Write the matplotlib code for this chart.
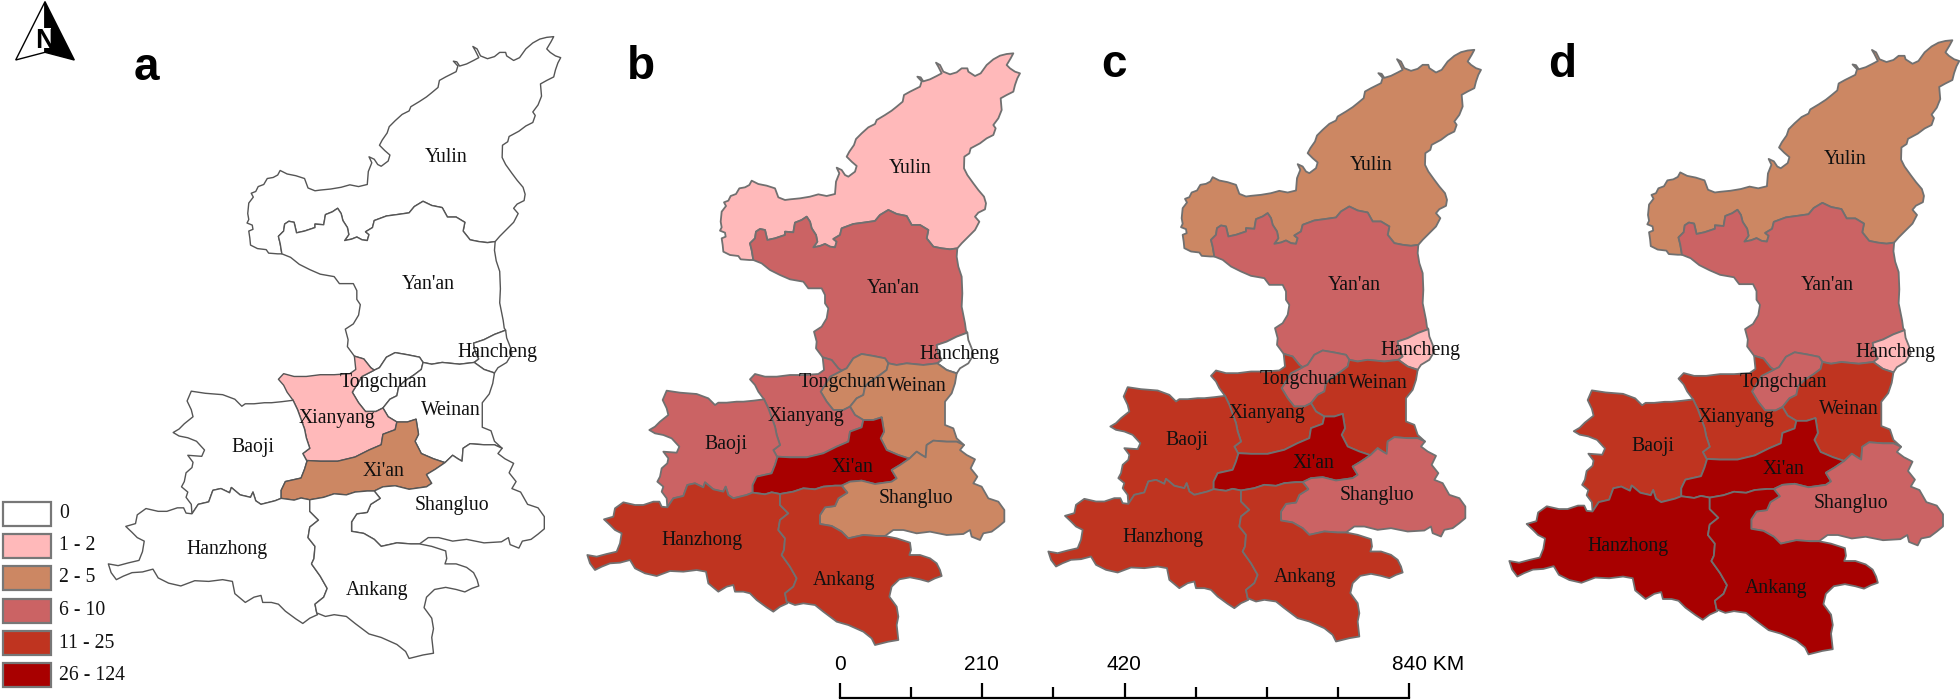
import matplotlib
matplotlib.use("Agg")
import matplotlib.pyplot as plt
from matplotlib.patches import Polygon, Rectangle

# ---------------- data ----------------
regions = ["Yulin", "Yan'an", "Hancheng", "Tongchuan", "Weinan", "Xianyang",
           "Baoji", "Xi'an", "Shangluo", "Hanzhong", "Ankang"]
legend_labels = ["0", "1 - 2", "2 - 5", "6 - 10", "11 - 25", "26 - 124"]
legend_colors = ["#FFFFFF", "#FFB9BA", "#CC8763", "#CB6364", "#BF3420", "#A80000"]
class_a = [0, 0, 0, 0, 0, 1, 0, 2, 0, 0, 0]
class_b = [1, 3, 0, 2, 2, 3, 3, 5, 2, 4, 4]
class_c = [2, 3, 1, 3, 4, 4, 4, 5, 3, 4, 4]
class_d = [2, 3, 1, 3, 4, 4, 4, 5, 3, 5, 5]
scale_labels = ["0", "210", "420", "840 KM"]

# Traced boundaries, in the 3x coordinates of the map tiles
def tile(ox, oy, pts):
    return [(ox + x / 3, oy + y / 3) for x, y in pts]

Y_OUT = tile(730, 40, [(682,625),(695,610),(715,590),(735,570),(748,545),(735,530),(745,518),(765,508),(768,490),(762,470),(745,450),(730,430),(712,405),(702,385),(703,350),(718,340),(722,325),(750,310),(770,295),(790,285),(797,265),(790,255),(805,235),(815,210),(812,175),(830,165),(850,155),(855,135),(862,115),(870,100),(855,95),(840,85),(830,75),(842,55),(850,40),(830,42),(810,47),(790,58),(770,75),(752,100),(735,108),(715,95),(712,85),(695,85),(680,97),(660,103),(640,95),(630,75),(618,68),(625,80),(635,100),(620,108),(600,118),(580,124),(572,112),(562,110),(575,124),(570,140),(540,155),(522,165),(518,185),(500,200),(485,212),(465,225),(440,240),(435,252),(415,262),(395,280),(378,297),(372,315),(358,335),(350,350),(365,365),(380,378),(375,395),(355,410),(345,405),(335,390),(320,383),(328,400),(318,425),(315,462),(290,468),(265,463),(240,470),(210,475),(180,478),(165,480),(145,472),(135,445),(110,437),(85,432)]) \
    + tile(710, 170, [(125,32),(118,45),(105,52),(88,55),(78,72),(62,78),(55,92),(42,97),(48,108),(35,125),(32,155),(35,172),(30,182),(45,188),(47,200),(35,205),(38,225),(40,245),(60,255),(85,258),(92,268),(118,270),(130,270)])
YY = tile(730, 40, [(70,660),(65,630),(60,610),(75,595),(78,575),(90,567),(105,570),(112,600),(135,595),(165,585),(165,575),(190,577),(195,548),(215,540),(230,530),(240,545),(245,565),(258,585),(262,605),(250,622),(270,618),(285,612),(300,620),(315,622),(320,605),(310,597),(330,585),(335,565),(370,552),(400,548),(435,543),(450,525),(475,510),(500,522),(530,528),(545,555),(570,555),(595,570),(590,595),(610,620),(635,625),(660,628),(682,625)])
YA_E = tile(730, 40, [(682,625),(680,650),(685,680),(695,710),(697,760),(695,800),(705,850),(708,872)])
HC_N = tile(690, 200, [(832,398),(800,410),(770,425),(740,435),(745,460),(755,480),(742,490)])
HC_E = tile(690, 200, [(832,398),(835,420),(845,445),(850,465),(835,490),(810,505),(800,520)])
HC_S = tile(690, 200, [(742,490),(770,510),(800,520)])
YA_W = tile(690, 200, [(190,180),(215,190),(240,210),(270,225),(300,238),(340,245),(355,265),(395,265),(405,285),(405,310),(415,325),(410,355),(395,380),(372,395),(380,425),(378,445),(398,472)])
YA_XY = tile(690, 200, [(398,472),(425,480),(445,505),(455,512)])
YA_TC = tile(690, 200, [(455,512),(470,505),(490,475),(515,462),(550,468),(585,475),(595,490)])
YA_WN = tile(690, 200, [(595,490),(620,495),(650,490),(700,495),(742,490)])
TC_WN = tile(690, 200, [(595,490),(590,510),(570,525),(540,545),(525,560),(520,585),(500,595),(480,620)])
TC_XY = tile(690, 200, [(480,620),(460,630),(430,630),(410,605),(392,575),(420,530),(455,512)])
XY_N = tile(690, 200, [(398,472),(402,510),(385,522),(340,525),(300,525),(260,530),(225,530),(195,522),(180,538),(195,555),(205,575),(222,598)])
XY_WN = tile(690, 200, [(480,620),(495,645),(520,660)])
WN_XA = tile(690, 200, [(520,660),(550,660),(575,652)])
XY_XA = tile(690, 200, [(520,660),(515,682),(480,695),(475,725),(440,740),(400,760),(350,772),(300,772),(262,770)])
BJ_XY = tile(580, 370, [(552,88),(565,115),(585,170),(590,195),(600,225),(580,240),(592,262)])
BJ_XA = tile(580, 370, [(592,262),(585,285),(575,310),(530,320),(518,345),(518,368)])
BJ_N = tile(580, 370, [(552,88),(520,92),(490,95),(470,95),(440,98),(415,98),(405,105),(385,85),(350,72),(300,68),(260,62),(248,90),(260,115),(265,135),(240,155),(225,170),(208,180),(225,190),(250,195),(275,205),(298,230),(290,248),(250,245),(265,265),(262,280),(245,295),(240,320),(232,335),(250,350),(245,365),(260,385),(262,412)])
HZ_BJ = tile(580, 370, [(262,412),(280,385),(310,378),(322,345),(345,340),(370,352),(375,337),(400,358),(430,365),(437,350),(445,375),(460,385),(500,375),(518,368)])
HZ_XA = tile(580, 370, [(518,368),(555,373),(575,367),(600,372)])
HZ_S = tile(580, 370, [(622,700),(600,710),(580,725),(560,712),(530,690),(510,670),(490,665),(465,665),(460,645),(440,650),(415,665),(385,640),(378,605),(350,600),(310,605),(270,603),(230,618),(195,610),(165,595),(150,570),(120,578),(90,580),(65,590),(45,600),(30,580),(22,555),(50,560),(80,552),(110,545),(120,520),(125,490),(105,480),(90,465),(72,448),(100,440),(105,415),(130,397),(165,405),(190,405),(220,395),(238,395),(245,410),(262,412)])
AK_HZ = tile(760, 370, [(60,372),(60,405),(85,430),(60,450),(55,480),(75,505),(72,540),(65,555),(90,590),(110,625),(100,650),(75,670),(80,695)])
XA_AK = tile(760, 370, [(60,372),(100,365),(130,355),(165,358),(190,350),(225,347),(245,347)])
XA_WN = tile(760, 370, [(365,142),(372,185),(362,205),(380,240),(415,255),(448,266)])
XA_SL = tile(760, 370, [(448,266),(420,285),(395,300),(410,325),(395,335),(345,342),(305,332),(270,335),(245,347)])
SL_WN = tile(760, 370, [(448,266),(470,245),(485,255),(497,262),(500,225),(520,212),(560,215),(590,215),(612,225)])
SL_E = tile(760, 370, [(612,225),(600,240),(620,255),(645,268),(632,295),(652,320),(640,340),(665,350),(685,385),(715,395),(733,420),(733,455),(715,470),(695,485),(670,490),(660,510),(635,500),(630,480),(610,492),(560,495),(510,485),(470,490),(430,480),(400,480),(375,498)])
SL_AK = tile(760, 370, [(375,498),(350,498),(310,495),(265,505),(245,485),(215,468),(180,462),(180,435),(195,412),(225,408),(235,385),(262,368),(245,347)])
AK_OUT = tile(760, 370, [(375,498),(410,505),(450,518),(453,540),(448,555),(480,555),(510,565),(530,580),(540,600),(545,618),(525,625),(505,635),(480,628),(450,622),(418,628),(395,650),(388,680),(410,710),(415,740),(410,765),(415,810),(385,815),(345,825),(335,805),(310,785),(265,765),(230,755),(190,725),(165,705),(130,700),(105,705),(80,695)])
WN_E = tile(760, 370, [(590,10),(585,40),(575,70),(555,95),(555,165),(580,175),(590,205),(612,225)])

def R(c):
    return c[::-1]

shapes = {
    "Yulin": Y_OUT + YY,
    "Yan'an": YA_E + HC_N + R(YA_WN) + R(YA_TC) + R(YA_XY) + R(YA_W) + YY,
    "Hancheng": HC_E + R(HC_S) + R(HC_N),
    "Tongchuan": YA_TC + TC_WN + TC_XY,
    "Weinan": HC_S + WN_E + R(SL_WN) + R(XA_WN) + R(WN_XA) + R(XY_WN) + R(TC_WN) + YA_WN,
    "Xianyang": XY_N + BJ_XY + R(XY_XA) + R(XY_WN) + TC_XY + R(YA_XY),
    "Baoji": BJ_N + HZ_BJ + R(BJ_XA) + R(BJ_XY),
    "Xi'an": XY_XA + BJ_XA + HZ_XA + XA_AK + R(XA_SL) + R(XA_WN) + R(WN_XA),
    "Shangluo": SL_WN + SL_E + SL_AK + R(XA_SL),
    "Hanzhong": AK_HZ + HZ_S + HZ_BJ + HZ_XA,
    "Ankang": XA_AK + R(SL_AK) + AK_OUT + R(AK_HZ),
}

panel_letters = ["a", "b", "c", "d"]
panel_classes = [class_a, class_b, class_c, class_d]
# placement of the traced map: x scale, y scale, x of west tip, y of north tip
panel_fit = [(1.0455, 1.051, 108.3, 36.6), (1.0, 1.0, 587.3, 53.3),
             (1.0, 1.0, 1048.3, 49.8), (1.04, 1.038, 1509.3, 40.2)]
panel_edges = [("#555555", 1.0), ("#707070", 1.3), ("#707070", 1.3), ("#707070", 1.3)]
letter_pos = [(134, 80), (627, 79), (1101, 77), (1548, 77)]
label_pos_a = [(445.8,157.6),(427.9,284.4),(497.5,352.7),(383.8,382.6),(450.4,410.7),(336.8,418.8),(252.6,447.3),(383.8,471.4),(452.4,505.4),(226.9,549.1),(377,590.6)]
label_pos_b = [(910,168.8),(893.3,288.8),(959,354),(842.3,382.6),(917.3,386.6),(805.7,417),(725.7,444.2),(852,467),(915.7,499),(701.7,541),(844.3,581)]
label_pos_c = [(x + 461, y - 3.5) for x, y in label_pos_b]
label_pos_d = [(1845,159.8),(1827,285),(1895.7,352.4),(1783.3,382.2),(1849,409.6),(1736,417.8),(1653,446.3),(1783.7,470),(1851.3,503.5),(1628,547),(1776.3,589)]
panel_labels = [label_pos_a, label_pos_b, label_pos_c, label_pos_d]

# ---------------- figure ----------------
fig = plt.figure(figsize=(19.6, 7), dpi=100)
ax = fig.add_axes([0, 0, 1, 1])
ax.set_xlim(0, 1960)
ax.set_ylim(700, 0)
ax.axis("off")
SERIF = "Liberation Serif"
SANS = "Liberation Sans"

for classes, (sx, sy, x0, y0), (ec, lw), labels, letter, lp in zip(
        panel_classes, panel_fit, panel_edges, panel_labels, panel_letters, letter_pos):
    for name, cls in zip(regions, classes):
        pts = [(x0 + sx * (x - 587.3), y0 + sy * (y - 53.3)) for x, y in shapes[name]]
        ax.add_patch(Polygon(pts, closed=True, facecolor=legend_colors[cls],
                             edgecolor=ec, linewidth=lw, joinstyle="round", zorder=2))
    for name, (x, y) in zip(regions, labels):
        ax.text(x, y, name, family=SERIF, fontsize=14.2, color="#111111",
                ha="center", va="center", zorder=5)
    ax.text(lp[0], lp[1], letter, family=SANS, fontweight="bold", fontsize=33,
            color="black", ha="left", va="baseline", zorder=5)

# legend
legend_tops = [502, 534, 566, 598.5, 631, 663]
for top, col, lab in zip(legend_tops, legend_colors, legend_labels):
    ax.add_patch(Rectangle((3, top), 48, 24, facecolor=col, edgecolor="#777777",
                           linewidth=1.6, zorder=3))
    ax.text(59, top + 12, lab, family=SERIF, fontsize=14.2, color="#111111",
            ha="left", va="center", zorder=5)

# north arrow
ax.add_patch(Polygon([(45, 1.7), (15.7, 60), (45, 52.3)], closed=True, facecolor="white",
                     edgecolor="black", linewidth=1.0, zorder=3))
ax.add_patch(Polygon([(45, 1.7), (74.3, 60), (45, 52.3)], closed=True, facecolor="black",
                     edgecolor="black", linewidth=1.0, zorder=3))
ax.add_patch(Rectangle((44, 27.5), 6.5, 20.5, facecolor="white", edgecolor="none", zorder=3.5))
ax.text(45, 48, "N", family=SANS, fontweight="bold", fontsize=20, color="black",
        ha="center", va="baseline", zorder=4)

# scale bar
bar_x0 = 840.2
bar_step = 71.09
bar_y = 697.5
ax.plot([bar_x0, bar_x0 + 8 * bar_step], [bar_y, bar_y], color="black", lw=1.6,
        solid_capstyle="projecting", zorder=4)
for i in range(9):
    top = 682.5 if i in (0, 2, 4, 8) else 686.5
    ax.plot([bar_x0 + i * bar_step] * 2, [top, bar_y], color="black", lw=1.6,
            solid_capstyle="butt", zorder=4)
scale_x = [840, 981.7, 1123.7, 1391.5]
for lab, x in zip(scale_labels, scale_x):
    ax.text(x, 665, lab, family=SANS, fontsize=15, color="black",
            ha="left" if "KM" in lab else "center", va="center", zorder=5)

fig.savefig("out.png", dpi=100, facecolor="white")
